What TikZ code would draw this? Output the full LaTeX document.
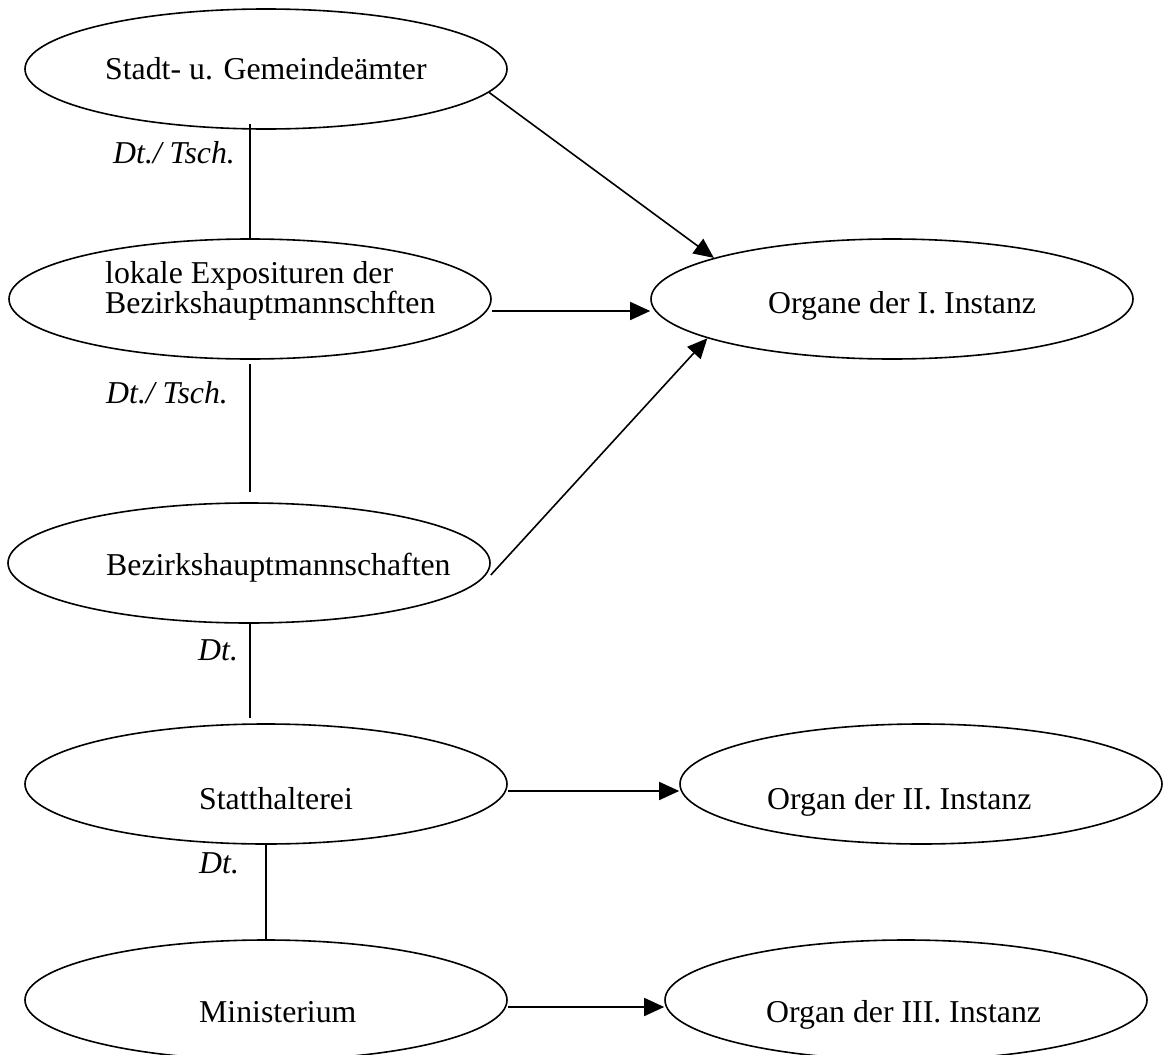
\documentclass[tikz,border=0pt]{standalone}
\usepackage{fontspec}
\setmainfont{Liberation Serif}
\usetikzlibrary{shapes.geometric,arrows.meta,calc}
\begin{document}
\begin{tikzpicture}[x=1pt,y=-1pt,
  unit/.style={ellipse, draw, line width=1.6pt, minimum width=482pt,
               minimum height=120pt, inner sep=0pt},
  lbl/.style={anchor=base west, inner sep=0pt, font=\fontsize{31.8}{38}\selectfont},
  lang/.style={anchor=base west, inner sep=0pt, font=\fontsize{31.8}{38}\selectfont\itshape},
  link/.style={line width=1.6pt},
  arr/.style={line width=1.6pt, -{Triangle[length=20pt,width=18pt]}}]

\useasboundingbox (0,0) rectangle (1163,1055);

% authorities (left column) and instances (right column)
\node[unit] (stadt)  at (266,69)   {};
\node[unit] (expo)   at (250,299)  {};
\node[unit] (organ1) at (892,299)  {};
\node[unit] (bezirk) at (249,563)  {};
\node[unit] (statt)  at (266,784)  {};
\node[unit] (organ2) at (921,784)  {};
\node[unit] (minis)  at (266,1000) {};
\node[unit] (organ3) at (906,1000) {};

% names inside the ellipses
\node[lbl] (stadt-t)  at (105,79)   {Stadt- u. Gemeindeämter};
\node[lbl] (expo-t1)  at (105,283)  {lokale Exposituren der};
\node[lbl] (expo-t2)  at (105,313)  {Bezirkshauptmannschften};
\node[lbl] (organ1-t) at (768,313)  {Organe der I. Instanz};
\node[lbl] (bezirk-t) at (106,575)  {Bezirkshauptmannschaften};
\node[lbl] (statt-t)  at (199,809)  {Statthalterei};
\node[lbl] (organ2-t) at (767,809)  {Organ der II. Instanz};
\node[lbl] (minis-t)  at (199,1022) {Ministerium};
\node[lbl] (organ3-t) at (766,1022) {Organ der III. Instanz};

% official languages between the levels
\node[lang] (lang1) at (113,163) {Dt./ Tsch.};
\node[lang] (lang2) at (106,403) {Dt./ Tsch.};
\node[lang] (lang3) at (198,660) {Dt.};
\node[lang] (lang4) at (199,873) {Dt.};

% hierarchy links
\draw[link] ($(expo.north |- stadt.south)+(0,-6)$) -- (expo.north);
\draw[link] ($(expo.south)+(0,4)$) -- ($(expo.south |- bezirk.north)+(0,-10)$);
\draw[link] ($(expo.south |- bezirk.south)$) -- ($(expo.south |- statt.north)+(0,-5)$);
\draw[link] (statt.south) -- (minis.north);

% instance arrows
\draw[arr] (stadt.-6.6) -- (organ1.167.7);
\draw[arr] ($(expo.east)+(0,12)$) -- ($(organ1.west)+(0,12)$);
\draw[arr] ($(bezirk.east)+(0,12)$) -- (organ1.-168);
\draw[arr] ($(statt.east)+(0,7)$) -- ($(organ2.west)+(0,7)$);
\draw[arr] ($(minis.east)+(0,7)$) -- ($(organ3.west)+(0,7)$);
\end{tikzpicture}
\end{document}
